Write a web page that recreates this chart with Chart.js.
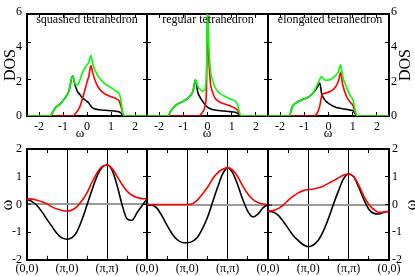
<!DOCTYPE html>
<html>
<head>
<meta charset="utf-8">
<script src="https://cdn.jsdelivr.net/npm/chart.js@4.4.1/dist/chart.umd.min.js"></script>
<style>
  html, body { margin: 0; padding: 0; background: #fff; }
  #wrap { position: relative; width: 415px; height: 276px; overflow: hidden; font-family: "Liberation Serif", "Times New Roman", serif; }
  #wrap canvas { position: absolute; left: 0; top: 0; }
  .txt { position: absolute; color: #000; white-space: nowrap; line-height: 1; transform: translate(-50%, -50%); }
  .rot { transform: translate(-50%, -50%) rotate(-90deg); }
</style>
</head>
<body>
<div id="wrap">
  <canvas id="dosTicks" width="415" height="276"></canvas>
  <canvas id="dos1" width="415" height="276"></canvas>
  <canvas id="dos2" width="415" height="276"></canvas>
  <canvas id="dos3" width="415" height="276"></canvas>
  <canvas id="bz1" width="415" height="276"></canvas>
  <canvas id="bz2" width="415" height="276"></canvas>
  <canvas id="bz3" width="415" height="276"></canvas>
</div>
<script>
// ---------- data: density of states (top row) ----------
const panelNames = ["squashed tetrahedron", "regular tetrahedron", "elongated tetrahedron"];

const wSquashed     = [-2.5, -1.55, -1.45, -1.3, -1.15, -0.95, -0.75, -0.6, -0.5, -0.4, -0.3, -0.2, -0.1, 0, 0.08, 0.16, 0.25, 0.35, 0.5, 0.75, 1.0, 1.25, 1.35, 1.42, 1.5, 1.6, 2.5];
const squashedGreen = [0, 0, 0.15, 0.48, 0.62, 0.92, 1.38, 2.2, 1.75, 1.7, 1.95, 2.35, 2.6, 2.78, 2.95, 3.3, 2.8, 2.45, 2.1, 1.75, 1.55, 1.32, 1.2, 0.8, 0.12, 0, 0];
const squashedRed   = [0, 0, 0, 0, 0, 0, 0, 0, 0.1, 0.27, 0.5, 0.9, 1.35, 1.85, 2.2, 2.75, 2.3, 1.9, 1.5, 1.2, 1.05, 0.92, 0.8, 0.5, 0.1, 0, 0];
const squashedBlack = [0, 0, 0.15, 0.48, 0.62, 0.92, 1.38, 2.2, 1.7, 1.35, 1.18, 1.0, 0.9, 0.8, 0.7, 0.55, 0.43, 0.38, 0.34, 0.31, 0.29, 0.25, 0.22, 0.15, 0.03, 0, 0];

const wRegular     = [-2.5, -1.65, -1.5, -1.3, -1.0, -0.75, -0.6, -0.5, -0.4, -0.3, -0.2, -0.1, -0.04, 0, 0.04, 0.12, 0.2, 0.3, 0.45, 0.65, 0.95, 1.15, 1.25, 1.32, 1.4, 2.5];
const regularGreen = [0, 0, 0.3, 0.6, 0.8, 1.05, 1.35, 1.98, 1.6, 1.45, 1.35, 1.45, 2.7, 6.0, 4.2, 2.5, 2.0, 1.6, 1.3, 1.12, 0.92, 0.8, 0.6, 0.2, 0, 0];
const regularRed   = [0, 0, 0, 0, 0, 0, 0, 0, 0, 0.05, 0.22, 0.55, 1.6, 5.6, 3.6, 1.8, 1.35, 1.0, 0.8, 0.68, 0.55, 0.42, 0.3, 0.1, 0, 0];
const regularBlack = [0, 0, 0.3, 0.6, 0.8, 1.05, 1.35, 1.98, 1.3, 1.0, 0.8, 0.62, 0.52, 0.48, 0.45, 0.4, 0.36, 0.33, 0.3, 0.27, 0.24, 0.2, 0.15, 0.06, 0, 0];

const wElongated     = [-2.5, -1.62, -1.5, -1.35, -1.1, -0.8, -0.6, -0.45, -0.36, -0.28, -0.2, -0.1, 0.05, 0.2, 0.32, 0.42, 0.5, 0.58, 0.75, 0.9, 1.02, 1.1, 1.2, 2.5];
const elongatedGreen = [0, 0, 0.5, 0.72, 0.88, 1.06, 1.35, 1.75, 2.0, 2.16, 2.0, 1.95, 1.98, 2.1, 2.25, 2.45, 2.8, 2.2, 1.55, 1.1, 0.85, 0.3, 0, 0];
const elongatedRed   = [0, 0, 0, 0, 0, 0, 0, 0.2, 0.55, 1.1, 1.22, 1.26, 1.32, 1.45, 1.65, 1.95, 2.38, 1.75, 1.05, 0.75, 0.55, 0.2, 0, 0];
const elongatedBlack = [0, 0, 0.5, 0.72, 0.88, 1.06, 1.32, 1.6, 1.8, 1.2, 0.98, 0.8, 0.65, 0.53, 0.47, 0.44, 0.42, 0.4, 0.36, 0.32, 0.28, 0.12, 0, 0];

const omegaTicks = [-2, -1, 0, 1, 2];
const dosTicks = [0, 2, 4, 6];

// ---------- data: dispersion along (0,0)-(pi,0)-(pi,pi)-(0,0) (bottom row) ----------
const kPath = [0, 0.125, 0.25, 0.375, 0.5, 0.625, 0.75, 0.875, 1, 1.125, 1.25, 1.375, 1.5, 1.625, 1.75, 1.875, 2, 2.125, 2.25, 2.375, 2.5, 2.625, 2.75, 2.875, 3];
const kTicks = [0, 0.5, 1, 1.5, 2, 2.5, 3];
const kLabels = ["(0,0)", "(π,0)", "(π,π)", "(0,0)"];
const bandTicks = [-2, -1, 0, 1, 2];

const bandSquashedBlack  = [0.18, 0.1, -0.04, -0.27, -0.54, -0.8, -1.05, -1.21, -1.26, -1.2, -0.98, -0.55, -0.02, 0.52, 1.02, 1.33, 1.42, 1.25, 0.7, 0.0, -0.52, -0.57, -0.3, -0.05, 0.2];
const bandSquashedRed    = [0.2, 0.19, 0.15, 0.1, 0.02, -0.09, -0.17, -0.22, -0.24, -0.2, -0.08, 0.14, 0.42, 0.8, 1.14, 1.36, 1.42, 1.3, 1.02, 0.72, 0.48, 0.33, 0.25, 0.21, 0.2];
const bandRegularBlack   = [0.0, -0.02, -0.14, -0.42, -0.76, -1.06, -1.27, -1.37, -1.38, -1.33, -1.18, -0.87, -0.46, 0.08, 0.62, 1.1, 1.32, 1.14, 0.7, 0.18, -0.25, -0.45, -0.35, -0.12, 0.0];
const bandRegularRed     = [0, 0, 0, 0, 0, 0, 0, 0, 0, 0.03, 0.16, 0.38, 0.62, 0.92, 1.14, 1.27, 1.32, 1.24, 1.0, 0.66, 0.38, 0.18, 0.07, 0.02, 0];
const bandElongatedBlack = [-0.24, -0.27, -0.38, -0.6, -0.86, -1.12, -1.3, -1.45, -1.52, -1.46, -1.28, -0.95, -0.5, 0.02, 0.5, 0.93, 1.1, 1.0, 0.62, 0.18, -0.17, -0.32, -0.34, -0.28, -0.24];
const bandElongatedRed   = [-0.24, -0.22, -0.15, -0.02, 0.15, 0.3, 0.42, 0.5, 0.54, 0.56, 0.6, 0.67, 0.76, 0.86, 0.96, 1.06, 1.1, 1.0, 0.7, 0.3, 0.0, -0.18, -0.28, -0.27, -0.25];

// ---------- helpers ----------
const SERIF = '"Liberation Serif", "Times New Roman", serif';
Chart.defaults.font.family = SERIF;
Chart.defaults.font.size = 12;
Chart.defaults.color = "#000";

const W = 415, H = 276;
const colX = [27, 147, 268, 389];
const rowTop = [14, 116], rowBot = [149, 260];
const dosMax = 5.57;          // frame top of the DOS panels
const dosLabelTop = 6;        // where the "6" tick label sits

function pts(xs, ys) { return xs.map((x, i) => ({ x: x, y: ys[i] })); }

function line(data, color) {
  return { data: data, borderColor: color, borderWidth: 1.6, pointRadius: 0, fill: false,
           cubicInterpolationMode: "monotone" };
}

// axis box gets the whole margin so its labels are not clipped
function frameAxis(pos, size, min, max, tickVals, o) {
  o = o || {};
  return {
    type: "linear", position: pos, min: min, max: max,
    afterFit: s => { if (s.isHorizontal()) s.height = size; else s.width = size; },
    afterBuildTicks: s => { s.ticks = tickVals.filter(v => v >= min && v <= max).map(v => ({ value: v })); },
    border: { display: true, color: "#000", width: 2 },
    grid: Object.assign({ drawOnChartArea: false, drawTicks: true, tickLength: -4, tickColor: "#000", tickWidth: 1 }, o.grid || {}),
    ticks: { display: !!o.labels, autoSkip: false, maxRotation: 0,
             padding: o.pad || 0, callback: o.cb, font: { family: SERIF, size: 12 } }
  };
}

function makeChart(id, col, rows, datasets, scales) {
  const m = { left: colX[col], right: W - colX[col + 1], top: rows[0], bottom: H - rows[1] };
  new Chart(document.getElementById(id), {
    type: "line",
    data: { datasets: datasets },
    options: {
      responsive: false, animation: false, events: [],
      layout: { padding: 0 },
      plugins: { legend: { display: false }, tooltip: { enabled: false } },
      scales: scales(m)
    }
  });
}

// ---------- top row: DOS ----------
const dosSets = [
  [wSquashed, squashedGreen, squashedRed, squashedBlack],
  [wRegular, regularGreen, regularRed, regularBlack],
  [wElongated, elongatedGreen, elongatedRed, elongatedBlack]
];
dosSets.forEach((s, i) => {
  makeChart("dos" + (i + 1), i, rowTop, [
    line(pts(s[0], s[1]), "#00ff00"),
    line(pts(s[0], s[2]), "#ff0000"),
    line(pts(s[0], s[3]), "#000000")
  ], m => ({
    x: frameAxis("bottom", m.bottom, -2.5, 2.5, omegaTicks, { labels: true, pad: 8 }),
    xt: frameAxis("top", m.top, -2.5, 2.5, omegaTicks),
    y: frameAxis("left", m.left, 0, dosMax, dosTicks),
    yr: frameAxis("right", m.right, 0, dosMax, dosTicks)
  }));
});

// DOS tick labels on the outer sides; the "6" sits just above the frame
const hidden = size => ({ type: "linear", min: 0, max: 1, afterFit: s => { s.height = size; },
  border: { display: false }, grid: { display: false }, ticks: { display: false } });
const dosLabelAxis = (pos, size, pad) => ({
  type: "linear", position: pos, min: 0, max: 6,
  afterFit: s => { s.width = size; },
  afterBuildTicks: s => { s.ticks = dosTicks.map(v => ({ value: v })); },
  border: { display: false }, grid: { display: false, drawTicks: false },
  ticks: { padding: pad, font: { family: SERIF, size: 12 } }
});
new Chart(document.getElementById("dosTicks"), {
  type: "line",
  data: { datasets: [] },
  options: {
    responsive: false, animation: false, events: [],
    layout: { padding: 0 },
    plugins: { legend: { display: false }, tooltip: { enabled: false } },
    scales: {
      x: { type: "linear", min: 0, max: 1, display: false },
      xb: Object.assign(hidden(H - rowTop[1]), { position: "bottom" }),
      xt: Object.assign(hidden(dosLabelTop), { position: "top" }),
      y: dosLabelAxis("left", colX[0], 5),
      yr: dosLabelAxis("right", W - colX[3], 2)
    }
  }
});

// ---------- bottom row: bands ----------
const bandSets = [
  [bandSquashedBlack, bandSquashedRed],
  [bandRegularBlack, bandRegularRed],
  [bandElongatedBlack, bandElongatedRed]
];
bandSets.forEach((s, i) => {
  // the closing (0,0) is shared with the next panel's opening one
  const kLabel = v => (Number.isInteger(v) && (v < 3 || i === 2) ? kLabels[v] : "");
  makeChart("bz" + (i + 1), i, rowBot, [
    line(pts(kPath, s[1]), "#ff0000"),
    line(pts(kPath, s[0]), "#000000")
  ], m => ({
    x: frameAxis("bottom", m.bottom, 0, 3, kTicks, { labels: true, pad: 6, cb: kLabel,
        grid: { drawOnChartArea: true, lineWidth: 1,
                color: c => (c.tick && (c.tick.value === 1 || c.tick.value === 2)) ? "#000" : "rgba(0,0,0,0)" } }),
    xt: frameAxis("top", m.top, 0, 3, kTicks),
    y: frameAxis("left", m.left, -2, 2, bandTicks, { labels: i === 0, pad: 9,
        grid: { drawOnChartArea: true, lineWidth: c => (c.tick && c.tick.value === 0) ? 2 : 1,
                color: c => (c.tick && c.tick.value === 0) ? "#9a9a9a" : "rgba(0,0,0,0)" } }),
    yr: frameAxis("right", m.right, -2, 2, bandTicks, { labels: i === 2, pad: 7 })
  }));
});

// ---------- text labels ----------
const wrap = document.getElementById("wrap");
function text(str, cx, cy, size, rotate) {
  const d = document.createElement("div");
  d.className = rotate ? "txt rot" : "txt";
  d.textContent = str;
  d.style.left = cx + "px";
  d.style.top = cy + "px";
  d.style.fontSize = size + "px";
  wrap.appendChild(d);
}
text(panelNames[0], 87, 18.5, 12);
text(panelNames[1], 208, 18.5, 12);
text(panelNames[2], 330, 18.5, 12);
text("DOS", 10, 65, 16, true);
text("DOS", 405, 65, 16, true);
text("ω", 80, 132, 13);
text("ω", 207, 132, 13);
text("ω", 328, 132, 13);
text("ω", 7, 205, 16, true);
text("ω", 411, 205, 16, true);
</script>
</body>
</html>
